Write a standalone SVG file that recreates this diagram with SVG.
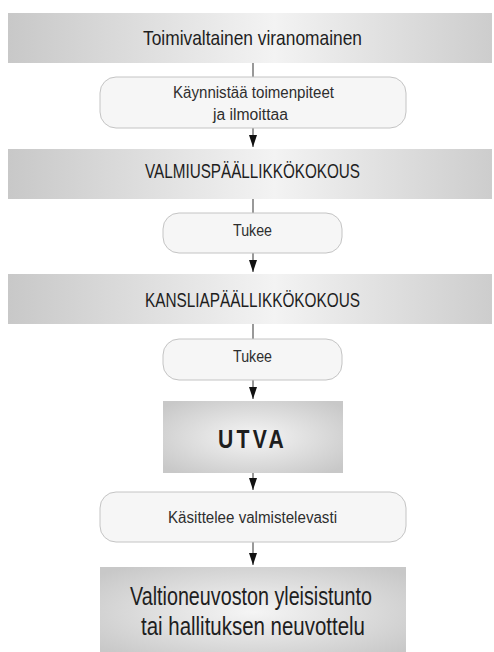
<svg xmlns="http://www.w3.org/2000/svg" width="494" height="652" viewBox="0 0 494 652">
<style>
text{font-family:"Liberation Sans","DejaVu Sans",sans-serif;fill:#1e1e1e;text-anchor:middle}
.band{fill:url(#bandGrad)}
.box{fill:url(#boxGrad)}
.pill{fill:#f6f6f6;stroke:#c4c4c4;stroke-width:1}
.t1{font-size:21px}
.t2{font-size:16px;fill:#2e2e2e}
.t3{font-size:21px}
.utva{font-size:26px;font-weight:bold;letter-spacing:4px}
.t4{font-size:25px}
.conn line{stroke:#555;stroke-width:1.2}
</style>
<defs>
<linearGradient id="bandGrad" x1="0" y1="0" x2="1" y2="0">
<stop offset="0" stop-color="#c8c8c8"/>
<stop offset="0.55" stop-color="#f3f3f3"/>
<stop offset="1" stop-color="#cdcdcd"/>
</linearGradient>
<radialGradient id="boxGrad" cx="0.5" cy="0.5" r="0.65">
<stop offset="0" stop-color="#f5f5f5"/>
<stop offset="1" stop-color="#c8c8c8"/>
</radialGradient>
<marker id="arr" markerWidth="12" markerHeight="8" refX="12" refY="4" orient="auto" markerUnits="userSpaceOnUse">
<path d="M0,0 L12,4 L0,8 Z" fill="#111"/>
</marker>
</defs>
<rect width="494" height="652" fill="#fff"/>
<g id="conns" class="conn">
<line x1="253" y1="63" x2="253" y2="77"/>
<line x1="253" y1="128" x2="253" y2="147" marker-end="url(#arr)"/>
<line x1="253" y1="199" x2="253" y2="213"/>
<line x1="253" y1="253" x2="253" y2="272" marker-end="url(#arr)"/>
<line x1="253" y1="324" x2="253" y2="339"/>
<line x1="253" y1="380" x2="253" y2="399" marker-end="url(#arr)"/>
<line x1="253" y1="473" x2="253" y2="490" marker-end="url(#arr)"/>
<line x1="253" y1="542" x2="253" y2="565" marker-end="url(#arr)"/>
</g>
<g id="n1">
<rect class="band" x="8" y="13" width="484" height="50"/>
<text class="t1" x="252.5" y="45" textLength="219" lengthAdjust="spacingAndGlyphs">Toimivaltainen viranomainen</text>
</g>
<g id="n2">
<rect class="pill" x="100" y="77" width="306" height="51" rx="16"/>
<text class="t2" x="253.5" y="98" textLength="161" lengthAdjust="spacingAndGlyphs">Käynnistää toimenpiteet</text>
<text class="t2" x="250.5" y="120" textLength="75" lengthAdjust="spacingAndGlyphs">ja ilmoittaa</text>
</g>
<g id="n3">
<rect class="band" x="8" y="149" width="484" height="50"/>
<text class="t3" x="252.5" y="178" textLength="215" lengthAdjust="spacingAndGlyphs">VALMIUSPÄÄLLIKKÖKOKOUS</text>
</g>
<g id="n4">
<rect class="pill" x="163" y="213" width="179" height="40" rx="16"/>
<text class="t2" x="252.5" y="236" textLength="39" lengthAdjust="spacingAndGlyphs">Tukee</text>
</g>
<g id="n5">
<rect class="band" x="8" y="274" width="484" height="50"/>
<text class="t3" x="252.5" y="307" textLength="215" lengthAdjust="spacingAndGlyphs">KANSLIAPÄÄLLIKKÖKOKOUS</text>
</g>
<g id="n6">
<rect class="pill" x="163" y="339" width="179" height="41" rx="16"/>
<text class="t2" x="252.5" y="362" textLength="39" lengthAdjust="spacingAndGlyphs">Tukee</text>
</g>
<g id="n7">
<rect class="box" x="163" y="401" width="180" height="72"/>
<text class="utva" x="252.5" y="448" textLength="69" lengthAdjust="spacingAndGlyphs">UTVA</text>
</g>
<g id="n8">
<rect class="pill" x="100" y="492" width="306" height="50" rx="16"/>
<text class="t2" x="252.5" y="523" textLength="169" lengthAdjust="spacingAndGlyphs">Käsittelee valmistelevasti</text>
</g>
<g id="n9">
<rect class="box" x="100" y="567" width="306" height="90"/>
<text class="t4" x="251" y="605" textLength="242" lengthAdjust="spacingAndGlyphs">Valtioneuvoston yleisistunto</text>
<text class="t4" x="253" y="635" textLength="224" lengthAdjust="spacingAndGlyphs">tai hallituksen neuvottelu</text>
</g>
</svg>
